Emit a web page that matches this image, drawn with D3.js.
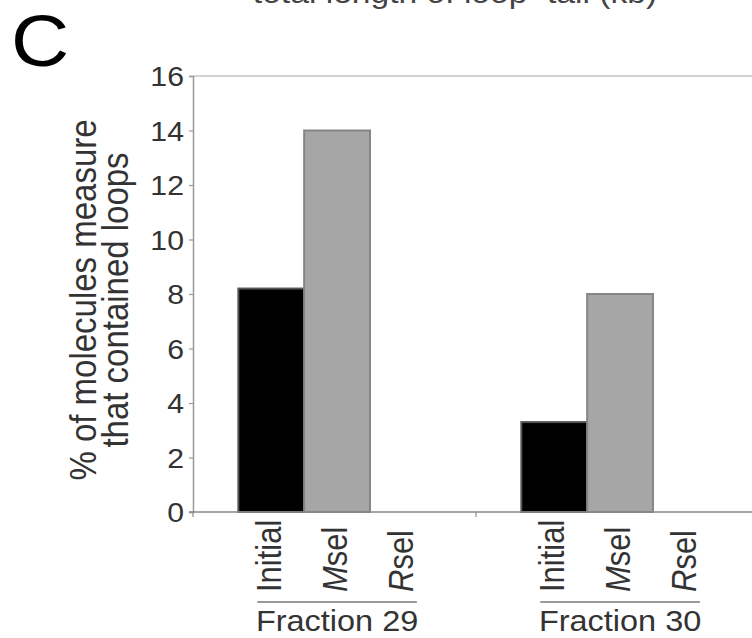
<!DOCTYPE html>
<html>
<head>
<meta charset="utf-8">
<script src="https://cdn.jsdelivr.net/npm/d3@7"></script>
<style>
  html, body { margin: 0; padding: 0; background: #fff; overflow: hidden; }
  text { font-family: "Liberation Sans", Arial, sans-serif; }
</style>
</head>
<body>
<svg id="chart" width="752" height="638"></svg>
<script>
// Percentage of measured molecules that contained loops, per fraction and selection
const fractions = ["Fraction 29", "Fraction 30"];
const conditions = ["Initial", "Msel", "Rsel"];
const initialValues = [8.2, 3.3];
const mselValues = [14.0, 8.0];
const rselValues = [0, 0];
const yTicks = [0, 2, 4, 6, 8, 10, 12, 14, 16];
const yTitleLines = ["% of molecules measure", "that contained loops"];
const panelLetter = "C";
const topCaption = "total length of loop+tail (kb)";

const rows = fractions.map((f, i) => ({
  fraction: f,
  values: [
    { key: "Initial", value: initialValues[i] },
    { key: "Msel", value: mselValues[i] },
    { key: "Rsel", value: rselValues[i] }
  ]
}));

const svg = d3.select("#chart");
const W = 752, H = 638;
const plot = { left: 193, top: 76, bottom: 512, groupWidth: 283 };
const stretch = 1.12; // glyphs are drawn slightly wide
const textColor = "#333";

svg.append("rect").attr("width", W).attr("height", H).attr("fill", "#fff");

const y = d3.scaleLinear().domain([0, 16]).range([plot.bottom, plot.top]);
const x0 = d3.scaleBand()
  .domain(fractions)
  .range([plot.left, plot.left + plot.groupWidth * fractions.length])
  .padding(0);
const x1 = d3.scaleBand()
  .domain(conditions)
  .range([0, x0.bandwidth()])
  .paddingInner(0)
  .paddingOuter(0.65)
  .align(0.53);

const fills = { Initial: "#000", Msel: "#a6a6a6", Rsel: "#a6a6a6" };
const strokes = { Initial: "#555", Msel: "#858585", Rsel: "#858585" };

// helper: place text with horizontal stretch and optional rotation
function placeText(sel, x, yPos, rot) {
  return sel.attr("x", 0).attr("y", 0)
    .attr("transform", `translate(${x},${yPos}) scale(${stretch},1)` + (rot ? ` rotate(${rot})` : ""));
}

// top frame line of the plot area
svg.append("line")
  .attr("x1", plot.left).attr("x2", W)
  .attr("y1", plot.top).attr("y2", plot.top)
  .attr("stroke", "#c4c4c4").attr("stroke-width", 1.5);

// bars
const groups = svg.append("g").selectAll("g")
  .data(rows).join("g")
  .attr("transform", d => `translate(${x0(d.fraction)},0)`);

groups.selectAll("rect")
  .data(d => d.values.filter(v => v.value > 0))
  .join("rect")
  .attr("x", d => x1(d.key))
  .attr("y", d => y(d.value))
  .attr("width", x1.bandwidth())
  .attr("height", d => y(0) - y(d.value))
  .attr("fill", d => fills[d.key])
  .attr("stroke", d => strokes[d.key])
  .attr("stroke-width", 2);

// y axis
const yAxis = svg.append("g")
  .attr("transform", `translate(${plot.left},0)`)
  .call(d3.axisLeft(y).tickValues(yTicks).tickSize(4).tickPadding(7).tickFormat(d3.format("d")));
yAxis.select(".domain").attr("stroke", "#9a9a9a").attr("stroke-width", 1.5);
yAxis.selectAll(".tick line").attr("stroke", "#9a9a9a").attr("stroke-width", 1.2);
yAxis.selectAll(".tick text")
  .attr("fill", textColor)
  .attr("font-size", 27)
  .attr("font-family", "'Liberation Sans', Arial, sans-serif")
  .attr("dy", "0.36em")
  .attr("x", null)
  .attr("transform", `translate(-9,0) scale(${stretch},1)`);

// x axis baseline with group separator ticks
svg.append("line")
  .attr("x1", plot.left - 4).attr("x2", W)
  .attr("y1", plot.bottom).attr("y2", plot.bottom)
  .attr("stroke", "#8a8a8a").attr("stroke-width", 1.5);
svg.append("g").selectAll("line")
  .data(fractions).join("line")
  .attr("x1", d => x0(d)).attr("x2", d => x0(d))
  .attr("y1", plot.bottom).attr("y2", plot.bottom + 5)
  .attr("stroke", "#8a8a8a").attr("stroke-width", 1.2);

// rotated condition labels
const labelBase = 592;
groups.each(function () {
  const g = d3.select(this);
  conditions.forEach(c => {
    const cx = x1(c) + x1.bandwidth() / 2 + 10;
    const t = placeText(g.append("text"), cx, labelBase, -90)
      .attr("font-size", 31)
      .attr("fill", textColor)
      .attr("text-anchor", "start");
    if (c === "Initial") {
      t.text(c);
    } else {
      t.append("tspan").attr("font-style", "italic").text(c.charAt(0));
      t.append("tspan").text(c.slice(1));
    }
  });
  const lx0 = x1("Initial") + x1.bandwidth() / 2 - 14;
  const lx1 = x1("Rsel") + x1.bandwidth() / 2 + 14;
  g.append("line")
    .attr("x1", lx0).attr("x2", lx1)
    .attr("y1", 602).attr("y2", 602)
    .attr("stroke", "#777").attr("stroke-width", 1.5);
  placeText(g.append("text"), (lx0 + lx1) / 2, 631)
    .attr("font-size", 29)
    .attr("fill", textColor)
    .attr("text-anchor", "middle")
    .text(d => d.fraction);
});

// y axis title (two lines)
const titleY = (plot.top + plot.bottom) / 2 + 6;
[96, 128].forEach((bx, i) => {
  placeText(svg.append("text"), bx, titleY, -90)
    .attr("font-size", 33)
    .attr("fill", textColor)
    .attr("text-anchor", "middle")
    .text(yTitleLines[i]);
});

// panel letter
placeText(svg.append("text"), 11, 66)
  .attr("font-size", 72)
  .attr("fill", "#000")
  .text(panelLetter);

// caption above the panel, partly outside the frame
placeText(svg.append("text"), 455, 3)
  .attr("font-size", 30)
  .attr("fill", "#444")
  .attr("text-anchor", "middle")
  .text(topCaption);
</script>
</body>
</html>
